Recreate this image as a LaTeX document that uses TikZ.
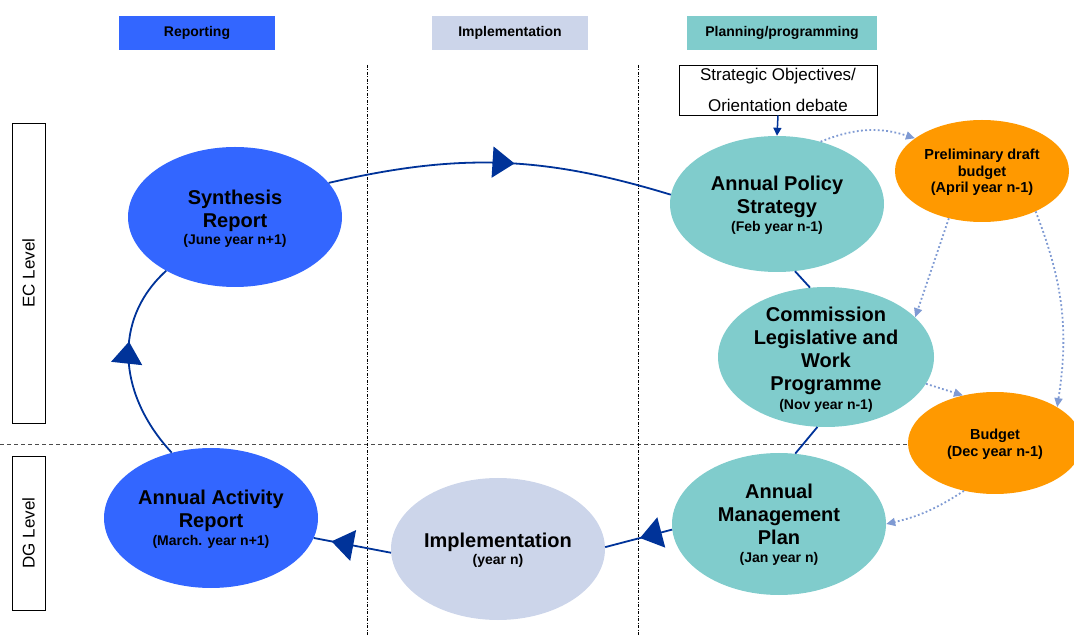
\documentclass[tikz,border=0pt]{standalone}
\usepackage{fontspec}
\setmainfont{Liberation Sans}
\usetikzlibrary{shapes.geometric,arrows.meta,decorations.markings}
\definecolor{repblue}{HTML}{3366FF}
\definecolor{implgray}{HTML}{CCD5EA}
\definecolor{planteal}{HTML}{80CCCC}
\definecolor{budorange}{HTML}{FF9900}
\definecolor{linkblue}{HTML}{003399}
\definecolor{dotblue}{HTML}{7F9AD3}
\newcommand\yrnote[1]{{\fontsize{14}{15}\selectfont #1}}
\begin{document}
\begin{tikzpicture}[x=1pt,y=1pt,
  header/.style={rectangle, draw=none, minimum width=156, minimum height=34, inner sep=0, font=\fontsize{14}{16}\selectfont\bfseries},
  ell/.style={ellipse, draw=none, inner sep=0, minimum width=214, minimum height=140},
  smallell/.style={ellipse, draw=none, inner sep=0, minimum width=174, minimum height=102, fill=budorange},
  title/.style={align=center, inner sep=0, font=\fontsize{20}{23}\selectfont\bfseries},
  small/.style={align=center, inner sep=0, font=\fontsize{14.5}{16.5}\selectfont\bfseries},
  link/.style={draw=linkblue, line width=1.8pt},
  midarrow/.style={decoration={markings, mark=at position #1 with {\arrow{Triangle[length=22pt,width=31pt]}}}, postaction={decorate}},
  dotlink/.style={draw=dotblue, line width=1.8pt, dash pattern=on 1.8pt off 2.4pt, -{Triangle[length=9pt,width=8pt]}},
  levelbox/.style={rectangle, draw, line width=0.8pt, minimum width=33, inner sep=0},
  leveltext/.style={rotate=90, inner sep=0, font=\fontsize{17}{20}\selectfont},
]
\useasboundingbox (0,0) rectangle (1074,635);

% background guides
\draw[black!70, line width=0.9pt, dash pattern=on 4pt off 3pt] (0,191) -- (1074,191);
\draw[black, line width=0.8pt, dash pattern=on 3pt off 1.5pt on 1pt off 1.5pt] (367,570) -- (367,0);
\draw[black, line width=0.8pt, dash pattern=on 3pt off 1.5pt on 1pt off 1.5pt] (638,570) -- (638,0);

% headers
\node[header, fill=repblue] (hrep) at (197,602) {Reporting};
\node[header, fill=implgray] (himpl) at (510,602) {Implementation};
\node[header, fill=planteal, minimum width=190] (hplan) at (782,602) {Planning/programming};

% level boxes
\node[levelbox, minimum height=300] (ec) at (28.5,362) {};
\node[leveltext] (ect) at (ec) {EC Level};
\node[levelbox, minimum height=154] (dg) at (28.5,102) {};
\node[leveltext] (dgt) at (dg) {DG Level};

% strategic objectives
\node[rectangle, draw, line width=0.8pt, minimum width=198, minimum height=50, inner sep=0, align=center, font=\fontsize{17}{31}\selectfont] (strat) at (778,545) {Strategic Objectives/\\Orientation debate};

% ellipses
\node[ell, fill=repblue] (syn) at (235,418) {};
\node[ell, fill=planteal, minimum height=136] (aps) at (777,431) {};
\node[smallell] (prelim) at (982,464) {};
\node[ell, fill=planteal, minimum width=216] (clwp) at (826,278) {};
\node[smallell] (budget) at (995,192) {};
\node[ell, fill=planteal, minimum height=142] (amp) at (779,111) {};
\node[ell, fill=implgray, minimum height=142] (impl) at (498,86) {};
\node[ell, fill=repblue] (aar) at (211,117) {};

% texts
\node[title] (synt) at (235,416) {Synthesis\\Report\\[-6pt]\yrnote{(June year n+1)}};
\node[title] (apst) at (777,429.5) {Annual Policy\\Strategy\\[-5pt]\yrnote{(Feb year n-1)}};
\node[small] (prelimt) at (982,462.5) {Preliminary draft\\budget\\(April year n-1)};
\node[title] (clwpt) at (826,275.5) {Commission\\Legislative and\\Work\\Programme\\[-4pt]\yrnote{(Nov year n-1)}};
\node[small] (budgett) at (995,190.5) {Budget\\(Dec year n-1)};
\node[title] (ampt) at (779,110) {Annual\\Management\\Plan\\[-5pt]\yrnote{(Jan year n)}};
\node[title] (implt) at (498,84.5) {Implementation\\[-6pt]\yrnote{(year n)}};
\node[title] (aart) at (211,115.5) {Annual Activity\\Report\\[-5pt]\yrnote{(March. year n+1)}};

% main cycle
\draw[link, midarrow=0.54] (syn.20) to[bend left=15] (aps.175);
\draw[link] (aps.285) -- (clwp.103);
\draw[link] (clwp.263) -- (amp.77);
\draw[link, midarrow=0.48] (amp.183) -- (impl.1);
\draw[link, midarrow=0.77] (impl.182) -- (aar.349);
\draw[link, midarrow=0.6] (aar.121) .. controls (118,240) and (112,315) .. (syn.218);

% strategic arrow
\draw[draw=linkblue, line width=1.5pt, -{Triangle[length=8pt,width=8pt]}] (strat.south) -- (aps.north);

% budget flows
\draw[dotlink] (aps.55) to[bend left=20] (prelim.154);
\draw[dotlink] (prelim.235) -- (clwp.24);
\draw[dotlink] (prelim.323) to[bend left=15] (budget.30);
\draw[dotlink] (clwp.345) -- (budget.124);
\draw[dotlink] (budget.237) to[bend left=10] (amp.0);
\end{tikzpicture}
\end{document}
